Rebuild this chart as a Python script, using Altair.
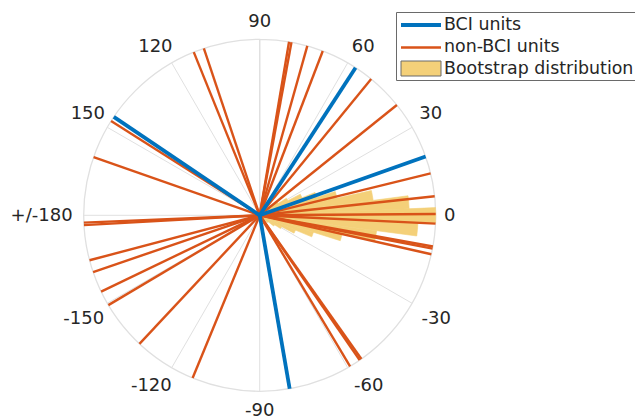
import altair as alt
import pandas as pd

# ---- data -------------------------------------------------------------
# preferred directions (degrees, counter-clockwise from 0 = east)
bci_angles = [57.0, 19.5, 146.0, -80.2]
nonbci_angles = [80.4, 79.6, 74.3, 69.0, 50.7, 38.8, 13.8, 6.2, 0.4, -2.7,
                 -10.2, -10.9, -12.8, -54.7, -55.4, -59.1,
                 108.5, 112.0, 147.6, 160.7, -176.8, -177.6,
                 -165.2, -161.2, -154.3, -149.3, -133.1, -112.4]

# bootstrap distribution of the population direction (5 degree bins, normalised)
bin_centers = [45, 40, 35, 30, 25, 20, 15, 10, 5, 0,
               -5, -10, -15, -20, -25, -30, -35, -40, -45]
bin_heights = [0.05, 0.085, 0.125, 0.18, 0.26, 0.34, 0.45, 0.65, 0.85, 1.0,
               0.9, 0.67, 0.48, 0.32, 0.22, 0.14, 0.1, 0.06, 0.03]
bin_width = 5

tick_angles = [0, 30, 60, 90, 120, 150, 180, 210, 240, 270, 300, 330]
tick_labels = ["0", "30", "60", "90", "120", "150", "+/-180",
               "-150", "-120", "-90", "-60", "-30"]

legend_labels = ["BCI units", "non-BCI units", "Bootstrap distribution"]

# ---- layout -----------------------------------------------------------
W, H = 635, 420
R_PX = 176.0           # radius of the polar axes in pixels
CX, CY = 259.7, 215.3  # centre of the polar axes in pixels
FONT = "DejaVu Sans"
TXT = "#262626"
BLUE = "#0072BD"
ORANGE = "#D95319"
FILL = "#F4D079"
GRID = "#E0E0E0"

xs = alt.Scale(domain=[-CX / R_PX, (W - CX) / R_PX], nice=False, zero=False)
ys = alt.Scale(domain=[-(H - CY) / R_PX, CY / R_PX], nice=False, zero=False)
rs = alt.Scale(type="linear", domain=[0, 1], range=[0, R_PX], zero=True)

unit_ray = dict(
    x0="0", y0="0",
    x1="cos(datum.angle * PI / 180)",
    y1="sin(datum.angle * PI / 180)",
)


def rays(df, color, width):
    return (
        alt.Chart(df)
        .transform_calculate(**unit_ray)
        .mark_rule(color=color, strokeWidth=width)
        .encode(
            x=alt.X("x0:Q", scale=xs, axis=None),
            y=alt.Y("y0:Q", scale=ys, axis=None),
            x2="x1:Q",
            y2="y1:Q",
        )
    )


# grid: outer circle and spokes every 30 degrees
grid_df = pd.DataFrame({"angle": tick_angles})
spokes = rays(grid_df, GRID, 1)

circle = (
    alt.Chart(pd.DataFrame({"r": [1.0]}))
    .transform_calculate(cx="0", cy="0")
    .mark_arc(filled=False, stroke=GRID, strokeWidth=1.3)
    .encode(
        x=alt.X("cx:Q", scale=xs, axis=None),
        y=alt.Y("cy:Q", scale=ys, axis=None),
        theta=alt.value(0),
        theta2=alt.value(6.283185307),
        radius=alt.Radius("r:Q", scale=rs),
    )
)

# bootstrap polar histogram
hist_df = pd.DataFrame({"center": bin_centers, "height": bin_heights})
hist = (
    alt.Chart(hist_df)
    .transform_calculate(
        cx="0", cy="0",
        t0=f"PI / 2 - (datum.center + {bin_width / 2}) * PI / 180",
        t1=f"PI / 2 - (datum.center - {bin_width / 2}) * PI / 180",
    )
    .mark_arc(color=FILL, stroke=FILL, strokeWidth=0.6)
    .encode(
        x=alt.X("cx:Q", scale=xs, axis=None),
        y=alt.Y("cy:Q", scale=ys, axis=None),
        theta=alt.Theta("t0:Q", scale=None),
        theta2="t1:Q",
        radius=alt.Radius("height:Q", scale=rs),
    )
)

nonbci = rays(pd.DataFrame({"angle": nonbci_angles}), ORANGE, 2.4)
bci = rays(pd.DataFrame({"angle": bci_angles}), BLUE, 3.8)

# angle labels just outside the circle, pushed out by their half extent
lab_df = pd.DataFrame({"angle": tick_angles, "label": tick_labels})
labels = (
    alt.Chart(lab_df)
    .transform_calculate(
        c="cos(datum.angle * PI / 180)",
        s="sin(datum.angle * PI / 180)",
    )
    .transform_calculate(
        sx="clamp(2 * datum.c, -1, 1)",
        sy="clamp(2 * datum.s, -1, 1)",
        hw=f"length(datum.label) * 5.6 / {R_PX} * "
           "(datum.c < -0.99 ? 1 : (datum.c < 0 ? 0.72 : 1))",
    )
    .transform_calculate(
        lx=f"{184.5 / R_PX} * datum.c + datum.hw * datum.sx",
        ly=f"{184.5 / R_PX} * datum.s + {10 / R_PX} * datum.sy",
    )
    .mark_text(font=FONT, fontSize=18, color=TXT, align="center",
               baseline="middle", dy=1)
    .encode(
        x=alt.X("lx:Q", scale=xs, axis=None),
        y=alt.Y("ly:Q", scale=ys, axis=None),
        text="label:N",
    )
)

# legend box in the upper right corner
one = pd.DataFrame({"k": [0]})
leg_box = alt.Chart(one).mark_rect(fill="white", stroke="#6a6a6a", strokeWidth=1).encode(
    x=alt.value(396.5), x2=alt.value(645), y=alt.value(12.5), y2=alt.value(80.5)
)
leg_blue = alt.Chart(one).mark_rule(color=BLUE, strokeWidth=3.8).encode(
    x=alt.value(401), x2=alt.value(441), y=alt.value(25)
)
leg_orange = alt.Chart(one).mark_rule(color=ORANGE, strokeWidth=2.4).encode(
    x=alt.value(401), x2=alt.value(441), y=alt.value(47.5)
)
leg_patch = alt.Chart(one).mark_rect(fill=FILL, stroke="#6a6a6a", strokeWidth=1).encode(
    x=alt.value(401), x2=alt.value(441), y=alt.value(61), y2=alt.value(76)
)
leg_text = (
    alt.Chart(pd.DataFrame({"label": legend_labels, "row": [0, 1, 2]}))
    .transform_calculate(py="25 + datum.row * 22")
    .mark_text(font=FONT, fontSize=17.4, color=TXT, align="left", baseline="middle")
    .encode(
        x=alt.value(444),
        y=alt.Y("py:Q", scale=None, axis=None),
        text="label:N",
    )
)

chart = (
    alt.layer(spokes, circle, hist, nonbci, bci, labels,
              leg_box, leg_blue, leg_orange, leg_patch, leg_text)
    .properties(width=W, height=H, padding=0,
                autosize=alt.AutoSizeParams(type="none"))
    .configure_view(strokeWidth=0)
)

chart.save("out.html", embed_options={"renderer": "svg", "actions": False})
